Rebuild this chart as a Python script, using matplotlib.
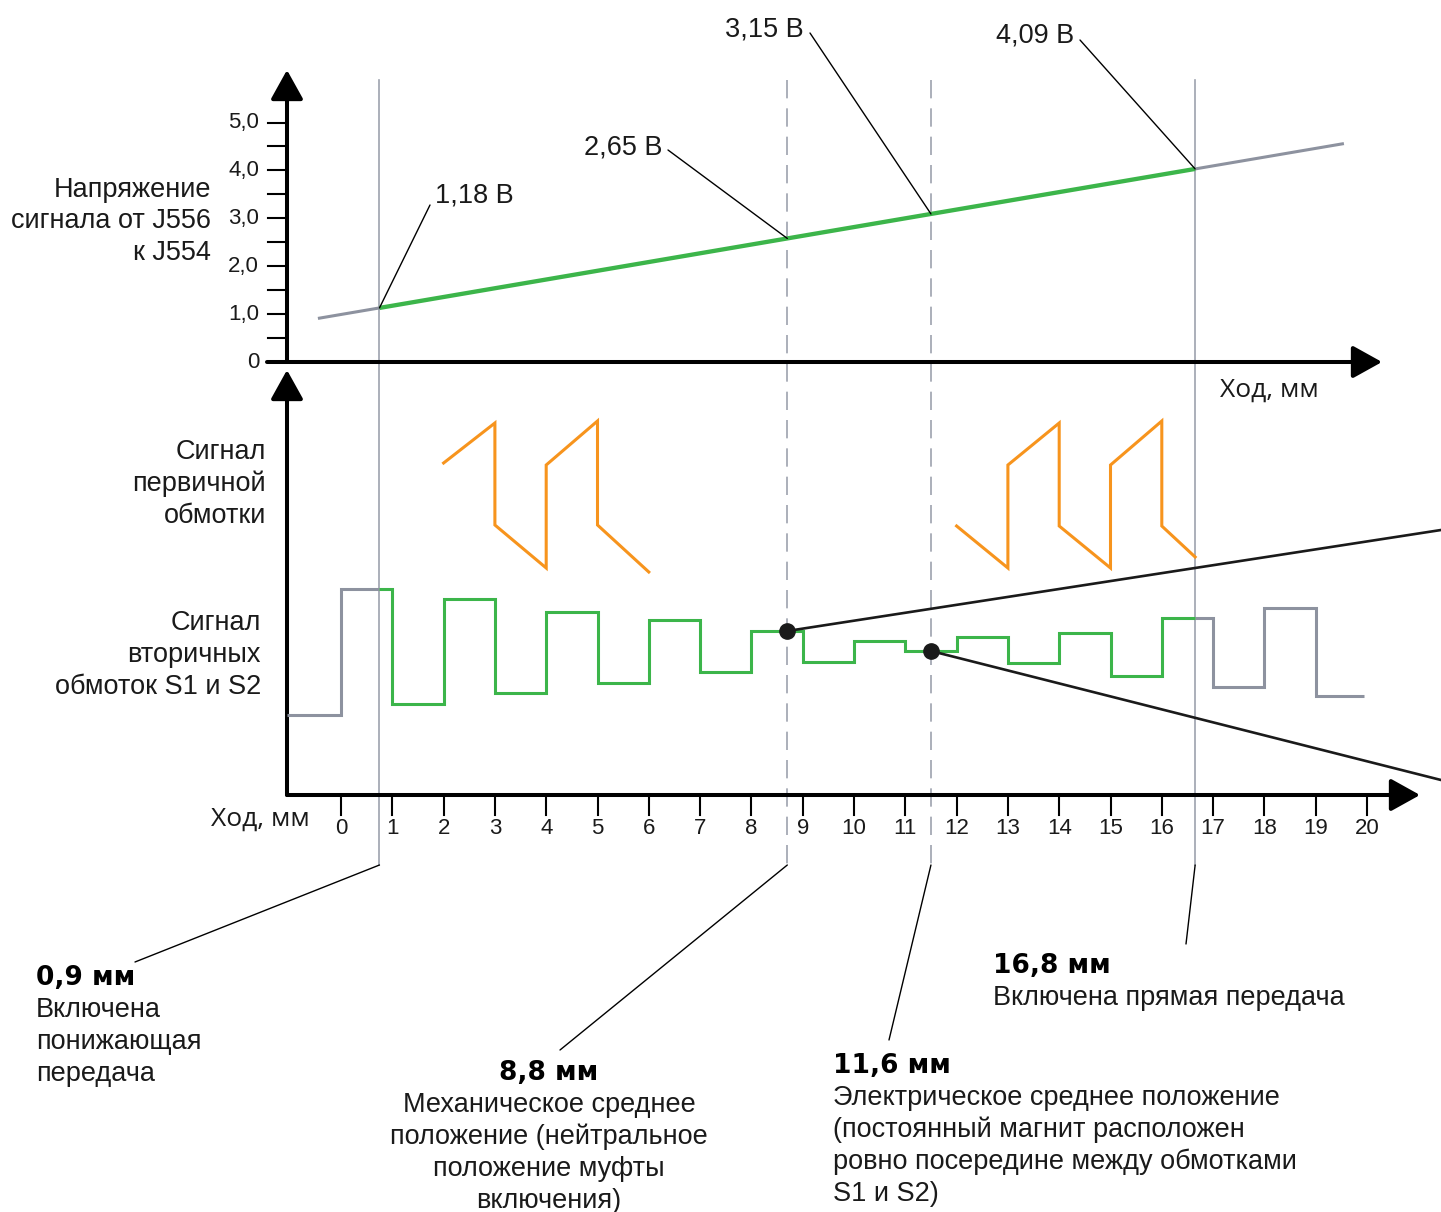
import numpy as np
import matplotlib
matplotlib.use('Agg')
import matplotlib.pyplot as plt

plt.rcParams['font.family'] = ['Liberation Sans', 'DejaVu Sans']

# ------------------------------------------------------------------ data
travel_ticks = list(range(0, 21))
volt_ticks = [0, 1, 2, 3, 4, 5]
volt_tick_labels = ['0', '1,0', '2,0', '3,0', '4,0', '5,0']
volt_minor = [0.5, 1.5, 2.5, 3.5, 4.5]

# sensor voltage line (travel mm -> volts)
volt_line_mm = [-0.45, 19.55]
volt_line_v = [0.91, 4.56]

# characteristic positions (as drawn) and their labels
mark_mm = [0.75, 8.7, 11.5, 16.65]
mark_dashed = [False, True, True, False]
mark_volt_labels = ['1,18 В', '2,65 В', '3,15 В', '4,09 В']
mark_mm_labels = ['0,9 мм', '8,8 мм', '11,6 мм', '16,8 мм']
mark_desc = [
    ['Включена', 'понижающая', 'передача'],
    ['Механическое среднее', 'положение (нейтральное', 'положение муфты', 'включения)'],
    ['Электрическое среднее положение', '(постоянный магнит расположен',
     'ровно посередине между обмотками', 'S1 и S2)'],
    ['Включена прямая передача'],
]

# secondary coil signal: step levels between integer mm positions
sec_edges = list(range(0, 20))
sec_levels = [0.80, 2.06, 0.91, 1.96, 1.02, 1.83, 1.12, 1.75, 1.23, 1.64, 1.33,
              1.54, 1.44, 1.58, 1.32, 1.62, 1.19, 1.77, 1.08, 1.87, 0.99]

# primary coil signal (two sawtooth bursts)
prim1_mm = [2, 3, 3, 4, 4, 5, 5, 6]
prim1_sig = [3.32, 3.72, 2.70, 2.27, 3.30, 3.74, 2.70, 2.23]
prim2_mm = [12, 13, 13, 14, 14, 15, 15, 16, 16, 16.65]
prim2_sig = [2.69, 2.27, 3.30, 3.72, 2.69, 2.27, 3.30, 3.74, 2.69, 2.38]

# magnifier lines leaving the figure from the two dots
zoom_end_sig = [2.65, 0.15]

# ------------------------------------------------------------------ layout
W, H = 1441, 1212
X0_PX, MM_PX = 341, 51.3          # travel scale
V0_PX, V_PX = 362, 47.9           # voltage scale
S0_PX, S_PX = 795, 100.0          # signal scale
AXIS_MM = (287 - X0_PX) / MM_PX
SEC_END_MM = 19.95

GREEN = '#3cb54a'
GREY = '#8d929f'
ORANGE = '#f7941d'
GUIDE = '#9da2ae'
TXT = '#1a1a1a'
FS = 19.5
FS_BOLD = 19
FS_TICK = 16
BOLD_FAMILY = ['DejaVu Sans']
HOD_FAMILY = ['Open Sans', 'DejaVu Sans']

fig = plt.figure(figsize=(W / 100, H / 100), dpi=100)
xlim = (-X0_PX / MM_PX, (W - X0_PX) / MM_PX)


def mk(ylim):
    a = fig.add_axes([0, 0, 1, 1])
    a.set_xlim(*xlim)
    a.set_ylim(*ylim)
    a.axis('off')
    return a


lay = fig.add_axes([0, 0, 1, 1]); lay.set_xlim(0, W); lay.set_ylim(H, 0); lay.axis('off')
ax = mk((H, 0))                                             # x: mm, y: px
axv = mk((-(H - V0_PX) / V_PX, V0_PX / V_PX))               # x: mm, y: volts
axs = mk((-(H - S0_PX) / S_PX, S0_PX / S_PX))               # x: mm, y: signal


def split_poly(xs, ys, cuts):
    ox, oy = [xs[0]], [ys[0]]
    for i in range(1, len(xs)):
        x0, y0, x1, y1 = xs[i - 1], ys[i - 1], xs[i], ys[i]
        for c in sorted(cuts):
            if min(x0, x1) < c < max(x0, x1):
                ox.append(c); oy.append(y0 + (y1 - y0) * (c - x0) / (x1 - x0))
        ox.append(x1); oy.append(y1)
    return np.array(ox), np.array(oy)


def draw_split(a, xs, ys, lo, hi, c_in, c_out, lw, lw_in=None):
    px, py = split_poly(xs, ys, [lo, hi])
    e = 1e-9
    m1 = px <= lo + e
    m2 = (px >= lo - e) & (px <= hi + e)
    m3 = px >= hi - e
    kw = dict(solid_joinstyle='miter', solid_capstyle='butt')
    a.plot(px[m1], py[m1], color=c_out, lw=lw, **kw)
    a.plot(px[m3], py[m3], color=c_out, lw=lw, **kw)
    a.plot(px[m2], py[m2], color=c_in, lw=lw_in or lw, **kw)


def arrow(a, start, tip, lw=2.9):
    a.annotate('', xy=tip, xytext=start,
               arrowprops=dict(arrowstyle='-|>,head_length=0.9,head_width=0.5',
                               mutation_scale=20, lw=lw, color='black',
                               shrinkA=0, shrinkB=0), zorder=5)


# ---- guide lines
for m, d in zip(mark_mm, mark_dashed):
    ax.plot([m, m], [80, 865], color=GUIDE, lw=1.2,
            ls=(0, (11, 6)) if d else '-', zorder=1)

# ---- axes (top)
arrow(axv, (AXIS_MM, 0), (AXIS_MM, (V0_PX - 70) / V_PX))
arrow(axv, ((267 - X0_PX) / MM_PX, 0), ((1382 - X0_PX) / MM_PX, 0))
tick_x0 = (268 - X0_PX) / MM_PX
for v in volt_ticks[1:] + volt_minor:
    axv.plot([tick_x0, AXIS_MM], [v, v], color='black', lw=1.5)
for v, lab in zip(volt_ticks, volt_tick_labels):
    axv.text((259 - X0_PX) / MM_PX, v, lab, ha='right', va='center', fontsize=FS_TICK, color=TXT)

# ---- axes (bottom)
arrow(ax, (AXIS_MM, S0_PX), (AXIS_MM, 370))
arrow(ax, (AXIS_MM, S0_PX), ((1420 - X0_PX) / MM_PX, S0_PX))
for t in travel_ticks:
    ax.plot([t, t], [798, 815], color='black', lw=1.5)
    ax.text(t, 829, str(t), ha='center', va='center', fontsize=FS_TICK, color=TXT)

# ---- voltage line
draw_split(axv, np.array(volt_line_mm), np.array(volt_line_v), mark_mm[0], mark_mm[-1],
           GREEN, GREY, 2.2, 3.1)

# ---- secondary signal
sx = np.concatenate([[AXIS_MM], np.repeat(sec_edges, 2), [SEC_END_MM]])
sy = np.repeat(sec_levels, 2)
draw_split(axs, sx, sy, mark_mm[0], mark_mm[-1], GREEN, GREY, 2.2)

# ---- primary signal
axs.plot(prim1_mm, prim1_sig, color=ORANGE, lw=2.2, solid_joinstyle='miter')
axs.plot(prim2_mm, prim2_sig, color=ORANGE, lw=2.2, solid_joinstyle='miter')

# ---- dots and magnifier lines
for m, ye in zip(mark_mm[1:3], zoom_end_sig):
    y0 = sec_levels[int(np.searchsorted(sec_edges, m, side='right'))]
    axs.plot([m, xlim[1]], [y0, ye], color='#1a1a1a', lw=1.9, zorder=6)
    axs.plot([m], [y0], 'o', ms=11, color='#1a1a1a', zorder=7)

# ---- voltage callouts
vt_pos = [((430, 205), (435, 196), 'left'), ((668, 150), (662, 147), 'right'),
          ((810, 33), (804, 29), 'right'), ((1080, 40), (1074, 36), 'right')]
for m, lab, (lp, tp, ha) in zip(mark_mm, mark_volt_labels, vt_pos):
    v = np.interp(m, volt_line_mm, volt_line_v)
    axv.annotate('', xy=(m, v), xytext=lp, textcoords=lay.transData,
                 arrowprops=dict(arrowstyle='-', lw=1.0, color='black', shrinkA=0, shrinkB=0))
    lay.text(tp[0], tp[1], lab, ha=ha, va='center', fontsize=FS, color=TXT)

# ---- position callouts
mm_pos = [((135, 962), 36, 978, 'left'), ((560, 1050), 549, 1073, 'center'),
          ((889, 1040), 833, 1066, 'left'), ((1186, 944), 993, 966, 'left')]
for m, lab, desc, (lp, tx, ty, ha) in zip(mark_mm, mark_mm_labels, mark_desc, mm_pos):
    ax.annotate('', xy=(m, 865), xytext=lp, textcoords=lay.transData,
                arrowprops=dict(arrowstyle='-', lw=1.0, color='black', shrinkA=0, shrinkB=0))
    lay.text(tx, ty, lab, ha=ha, va='center', fontsize=FS_BOLD, fontweight='bold',
             color='black', family=BOLD_FAMILY)
    for i, line in enumerate(desc):
        lay.text(tx, ty + 32 * (i + 1), line, ha=ha, va='center', fontsize=FS, color=TXT)

# ---- side labels
side = [(211, [190, 221, 253], ['Напряжение', 'сигнала от J556', 'к J554']),
        (266, [452, 484, 516], ['Сигнал', 'первичной', 'обмотки']),
        (261, [623, 655, 687], ['Сигнал', 'вторичных', 'обмоток S1 и S2'])]
for x, ys, lines in side:
    for y, line in zip(ys, lines):
        lay.text(x, y, line, ha='right', va='center', fontsize=FS, color=TXT)

lay.text(310, 819, 'Ход, мм', ha='right', va='center', fontsize=19, color=TXT, family=HOD_FAMILY)
lay.text(1220, 390, 'Ход, мм', ha='left', va='center', fontsize=19, color=TXT, family=HOD_FAMILY)

fig.savefig('out.png', dpi=100)
